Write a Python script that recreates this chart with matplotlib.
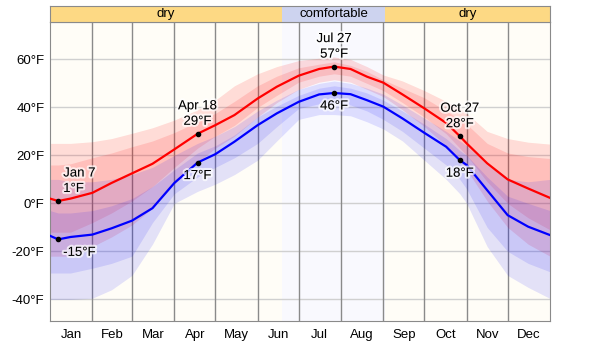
import numpy as np
import matplotlib
matplotlib.use("Agg")
import matplotlib.pyplot as plt
import matplotlib.patheffects as pe

plt.rcParams['font.family'] = ['Liberation Sans', 'DejaVu Sans']

# day of year (leap year, 0..366) and daily temperature summaries in °F
days = [0, 6, 15, 31, 45, 60, 75, 91, 108, 121, 135, 152, 166, 182, 197, 208,
        220, 232, 244, 258, 274, 290, 300, 305, 320, 335, 350, 366]

hi_mean = [2, 1, 2, 4.4, 8.5, 12.5, 16.5, 22.5, 29, 32.6, 36.8, 43.7, 48.6, 53.2,
           56, 57, 56, 52.8, 50.3, 45.4, 39.6, 33.5, 28, 25, 16.7, 10, 6.2, 2.3]
lo_mean = [-13.5, -15, -14, -13, -10.4, -7.2, -2, 8.5, 17, 20.5, 25.7, 32.6, 37.5,
           42.3, 45.4, 46, 45.5, 43, 40.3, 35.4, 29.4, 23.6, 18, 16, 5.5, -4.9,
           -9.7, -13.2]

hi_p90 = [25, 25, 25, 25.7, 27, 29.2, 31.5, 34.7, 39, 43, 49, 54, 57, 59.5, 60.5,
          61, 60, 57, 53.5, 51, 47, 42.5, 39.6, 37.5, 30, 27, 25.5, 24.7]
hi_p75 = [16, 16, 16.5, 19, 21, 23.6, 26, 29.5, 34, 37.5, 42.5, 49, 53, 56.5, 58,
          59, 57.5, 55, 51.5, 48, 44, 38.5, 35, 33, 25, 21, 19.5, 18.7]
hi_p25 = [-12, -12, -12, -8, -4, 1, 7, 15, 23, 28, 32.5, 40, 45, 50.5, 53, 54, 53,
          50, 47, 42, 36, 29, 23, 20, 9, 0, -6, -11]
hi_p10 = [-22, -22, -22, -18, -14, -9, -2, 8, 17, 23, 28, 36, 42, 47.5, 50.5, 51.5,
          50.5, 47.5, 44.5, 39, 32, 24, 18, 14, 1, -10, -17, -22]

lo_p90 = [10, 10, 9, 9, 10, 12, 15, 20, 25, 28, 32, 38.5, 43, 47.5, 50, 51, 50, 48,
          45.5, 41, 35.5, 30, 26, 24, 16, 10, 9, 10]
lo_p75 = [-3, -4, -4, -3, -1, 2, 7, 14, 21, 24, 28.5, 36, 40.5, 45, 48, 49, 48, 46,
          43, 38.5, 33, 27, 22, 20, 11, 3, 0, -3]
lo_p25 = [-29, -29, -29, -27, -25, -22, -8, 4, 11, 15, 19, 25, 32, 39.5, 41.5, 42,
          41, 38.5, 35, 30, 23, 16, 10, 6, -10, -20, -25, -28.5]
lo_p10 = [-40, -40, -40, -39.5, -36, -30, -17, 0, 5, 8, 12, 18, 26, 35, 37, 37,
          36.5, 34, 31, 26, 18, 10, 4, 0, -18, -30, -35, -39.6]

# labelled extremes / seasonal points
ann_labels = ['Jan 7', 'Apr 18', 'Jul 27', 'Oct 27']
ann_days = [6, 108, 208, 300]
ann_hi = [1, 29, 57, 28]
ann_lo = [-15, 17, 46, 18]

months = ['Jan', 'Feb', 'Mar', 'Apr', 'May', 'Jun', 'Jul', 'Aug', 'Sep', 'Oct', 'Nov', 'Dec']
month_len = [31, 29, 31, 30, 31, 30, 31, 31, 30, 31, 30, 31]

# humidity comfort bands (start day, end day, label)
comfort = [(0, 169.5, 'dry'), (169.5, 245.5, 'comfortable'), (245.5, 366, 'dry')]
comfort_bg = {'dry': '#fffdf7', 'comfortable': '#f9f9fe'}
comfort_bar = {'dry': '#fdd984', 'comfortable': '#cdd3ef'}

yticks = [-40, -20, 0, 20, 40, 60]

fig = plt.figure(figsize=(6, 3.44), dpi=100)
W, H = 600, 344
ax = fig.add_axes([50 / W, (H - 321) / H, 500 / W, (321 - 21.7) / H])
band = fig.add_axes([50 / W, (H - 21.7) / H, 500 / W, 15.7 / H])

edges = np.concatenate([[0], np.cumsum(month_len)])
centers = (edges[:-1] + edges[1:]) / 2

for start, end, name in comfort:
    ax.axvspan(start, end, color=comfort_bg[name], zorder=0, lw=0)
    band.axvspan(start, end, color=comfort_bar[name], lw=0)
    band.text((start + end) / 2, 0.5, name, ha='center', va='center', fontsize=9.5)

for y in yticks:
    ax.axhline(y, color='#d0d0d0', lw=1, zorder=1)
for e in edges[1:-1]:
    ax.axvline(e, color='#8a8a8a', lw=1, zorder=1)

ax.fill_between(days, hi_p10, hi_p90, color='#ff0000', alpha=0.13, lw=0, zorder=2)
ax.fill_between(days, hi_p25, hi_p75, color='#ff0000', alpha=0.13, lw=0, zorder=2)
ax.fill_between(days, lo_p10, lo_p90, color='#0000ff', alpha=0.11, lw=0, zorder=2)
ax.fill_between(days, lo_p25, lo_p75, color='#0000ff', alpha=0.11, lw=0, zorder=2)

ax.plot(days, hi_mean, color='#ff0000', lw=1.6, zorder=3)
ax.plot(days, lo_mean, color='#0000ff', lw=1.6, zorder=3)
ax.plot(ann_days, ann_hi, 'o', color='black', ms=3, zorder=4)
ax.plot(ann_days, ann_lo, 'o', color='black', ms=3, zorder=4)

halo = [pe.withStroke(linewidth=3, foreground=(1, 1, 1, 0.7))]
px = 0.72  # points per pixel at 100 dpi
for i, (lab, d, h, l) in enumerate(zip(ann_labels, ann_days, ann_hi, ann_lo)):
    if i == 0:
        ha, dx = 'left', 5 * px
    else:
        ha, dx = 'center', 0
    ax.annotate(lab, (d, h), xytext=(dx, 27.5 * px), textcoords='offset points',
                ha=ha, va='center', fontsize=9.5, zorder=5, path_effects=halo)
    ax.annotate(f'{h}°F', (d, h), xytext=(dx, 12 * px), textcoords='offset points',
                ha=ha, va='center', fontsize=9.5, zorder=5, path_effects=halo)
    ax.annotate(f'{l}°F', (d, l), xytext=(dx, -13.5 * px), textcoords='offset points',
                ha=ha, va='center', fontsize=9.5, zorder=5, path_effects=halo)

ax.set_xlim(0, 366)
ax.set_ylim(-49, 75.7)
ax.set_xticks(centers)
ax.set_xticklabels(months, fontsize=9.5)
ax.set_yticks(yticks)
ax.set_yticklabels([f'{y}°F' for y in yticks], fontsize=9.5)
ax.tick_params(length=0, pad=4)
ax.tick_params(axis='x', pad=6)
for s in ax.spines.values():
    s.set_color('#8a8a8a')

band.set_xlim(0, 366)
band.set_ylim(0, 1)
band.set_xticks([])
band.set_yticks([])
for s in band.spines.values():
    s.set_color('#8a8a8a')

fig.savefig('out.png', dpi=100)
